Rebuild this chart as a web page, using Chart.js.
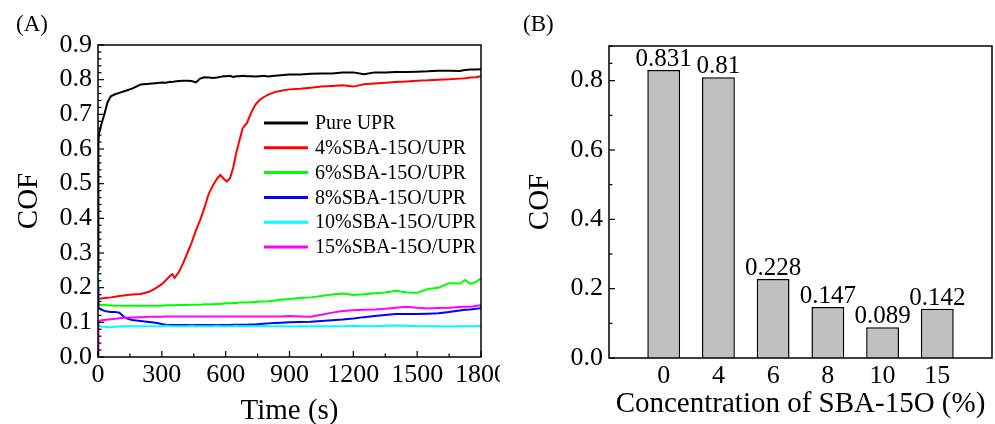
<!DOCTYPE html>
<html><head><meta charset="utf-8">
<script src="https://cdn.jsdelivr.net/npm/chart.js@4.4.1/dist/chart.umd.min.js"></script>
<style>
html,body{margin:0;padding:0;background:#fff;}
#wrap{position:relative;width:995px;height:424px;overflow:hidden;background:#fff;}
#ca{position:absolute;left:0;top:0;}
#cb{position:absolute;left:500px;top:0;}
</style></head><body>
<div id="wrap"><canvas id="ca" width="500" height="424"></canvas><canvas id="cb" width="495" height="424"></canvas></div>
<script>
const FONT = "'Liberation Serif','Times New Roman',serif";

// ---- Panel A data: COF vs time ----
const times = [0,2,5,15,30,45,60,80,100,130,
  160,200,240,270,300,320,340,350,360,380,
  400,420,440,460,480,500,520,540,560,575,
  590,605,620,635,650,665,680,700,720,740,
  760,780,800,830,860,900,950,1000,1050,1100,
  1150,1200,1250,1300,1350,1400,1450,1500,1550,1600,
  1650,1700,1725,1750,1775,1800];
const pureUPR = [0.25,0.62,0.645,0.67,0.70,0.735,0.752,0.758,0.762,0.768,
  0.774,0.786,0.788,0.790,0.792,0.791,0.794,0.793,0.795,0.796,
  0.797,0.797,0.796,0.792,0.803,0.807,0.806,0.805,0.806,0.808,
  0.810,0.810,0.811,0.808,0.810,0.810,0.811,0.810,0.810,0.809,
  0.810,0.811,0.809,0.811,0.813,0.815,0.815,0.817,0.818,0.818,
  0.821,0.821,0.816,0.821,0.821,0.822,0.822,0.823,0.824,0.826,
  0.826,0.825,0.828,0.829,0.829,0.830];
const sba4 = [0.166,0.167,0.168,0.169,0.170,0.171,0.172,0.174,0.176,0.178,
  0.180,0.182,0.188,0.198,0.210,0.222,0.235,0.239,0.228,0.245,
  0.270,0.300,0.330,0.365,0.395,0.430,0.470,0.495,0.515,0.525,
  0.515,0.506,0.515,0.545,0.590,0.625,0.660,0.675,0.705,0.728,
  0.742,0.750,0.757,0.764,0.768,0.772,0.774,0.777,0.780,0.782,
  0.784,0.780,0.787,0.789,0.791,0.793,0.795,0.797,0.798,0.800,
  0.801,0.803,0.804,0.806,0.807,0.810];
const sba6 = [0.228,0.152,0.150,0.150,0.150,0.149,0.149,0.148,0.148,0.148,
  0.148,0.148,0.148,0.148,0.148,0.149,0.149,0.149,0.149,0.150,
  0.150,0.150,0.151,0.151,0.151,0.152,0.152,0.152,0.153,0.153,
  0.154,0.155,0.155,0.156,0.156,0.157,0.157,0.157,0.158,0.159,
  0.160,0.160,0.161,0.163,0.165,0.167,0.170,0.172,0.176,0.180,
  0.183,0.179,0.181,0.184,0.186,0.191,0.186,0.185,0.196,0.200,
  0.213,0.212,0.222,0.211,0.216,0.227];
const sba8 = [0.200,0.145,0.140,0.137,0.133,0.131,0.130,0.130,0.128,0.112,
  0.107,0.104,0.101,0.099,0.095,0.093,0.092,0.092,0.092,0.092,
  0.092,0.092,0.092,0.092,0.092,0.092,0.092,0.092,0.092,0.092,
  0.092,0.092,0.092,0.093,0.093,0.093,0.093,0.093,0.094,0.094,
  0.095,0.096,0.097,0.098,0.099,0.100,0.101,0.102,0.104,0.106,
  0.108,0.111,0.115,0.118,0.121,0.124,0.124,0.124,0.125,0.126,
  0.130,0.134,0.136,0.137,0.139,0.141];
const sba10 = [0.100,0.092,0.090,0.088,0.087,0.086,0.086,0.087,0.088,0.089,
  0.089,0.089,0.089,0.089,0.089,0.090,0.089,0.089,0.089,0.089,
  0.089,0.089,0.090,0.089,0.089,0.089,0.089,0.089,0.090,0.089,
  0.089,0.089,0.089,0.089,0.090,0.089,0.089,0.089,0.089,0.089,
  0.089,0.090,0.089,0.089,0.089,0.088,0.089,0.089,0.089,0.089,
  0.089,0.090,0.089,0.089,0.090,0.091,0.090,0.089,0.089,0.089,
  0.088,0.089,0.089,0.089,0.089,0.090];
const sba15 = [0.000,0.100,0.104,0.106,0.107,0.108,0.109,0.110,0.112,0.113,
  0.114,0.115,0.116,0.116,0.116,0.117,0.117,0.117,0.117,0.117,
  0.117,0.117,0.117,0.117,0.117,0.117,0.117,0.117,0.117,0.117,
  0.117,0.117,0.117,0.117,0.117,0.117,0.117,0.117,0.117,0.117,
  0.117,0.117,0.117,0.117,0.117,0.118,0.117,0.116,0.122,0.128,
  0.133,0.135,0.136,0.137,0.139,0.142,0.145,0.142,0.140,0.141,
  0.142,0.144,0.145,0.145,0.147,0.149];
const seriesLabels = ['Pure UPR','4%SBA-15O/UPR','6%SBA-15O/UPR','8%SBA-15O/UPR','10%SBA-15O/UPR','15%SBA-15O/UPR'];
const seriesValues = [pureUPR, sba4, sba6, sba8, sba10, sba15];
const seriesColors = ['#000000','#ff0000','#00ff00','#0000ff','#00ffff','#ff00ff'];
const yTicksA = [0,0.1,0.2,0.3,0.4,0.5,0.6,0.7,0.8,0.9];
const xTicksA = [0,300,600,900,1200,1500,1800];

// ---- Panel B data: average COF vs concentration ----
const concentrations = ['0','4','6','8','10','15'];
const cofValues = [0.831,0.81,0.228,0.147,0.089,0.142];
const yTicksB = [0,0.2,0.4,0.6,0.8];

function subdivide(major, n, maxV) {
  const out = [];
  for (let i = 0; i < major.length; i++) {
    const a = major[i], b = (i + 1 < major.length) ? major[i+1] : maxV;
    if (b === undefined || b <= a) continue;
    for (let k = 1; k < n; k++) out.push(a + (b - a) * k / n);
  }
  return out;
}

const framePlugin = {
  id: 'frame',
  afterDatasetsDraw(chart, args, o) {
    const {ctx, chartArea: a, scales} = chart;
    ctx.save();
    ctx.strokeStyle = '#000';
    ctx.lineWidth = 1.2;
    const ln = (x1,y1,x2,y2)=>{ctx.beginPath();ctx.moveTo(x1,y1);ctx.lineTo(x2,y2);ctx.stroke();};
    (o.yMajor||[]).forEach(v=>{const p=scales.y.getPixelForValue(v); ln(a.left,p,a.left+6,p);});
    (o.yMinor||[]).forEach(v=>{const p=scales.y.getPixelForValue(v); ln(a.left,p,a.left+3.5,p);});
    (o.xMajor||[]).forEach(v=>{const p=scales.x.getPixelForValue(v); ln(p,a.bottom,p,a.bottom-6);});
    (o.xMinor||[]).forEach(v=>{const p=scales.x.getPixelForValue(v); ln(p,a.bottom,p,a.bottom-3.5);});
    ctx.lineWidth = 1.5;
    ctx.strokeRect(a.left, a.top, a.right - a.left, a.bottom - a.top);
    ctx.fillStyle = '#000';
    (o.texts||[]).forEach(t=>{
      ctx.font = t.size + 'px ' + FONT;
      ctx.textAlign = t.align || 'left';
      ctx.textBaseline = 'middle';
      ctx.fillText(t.text, t.x, t.y);
    });
    if (o.legend) {
      const L = o.legend;
      ctx.font = L.size + 'px ' + FONT;
      ctx.textAlign = 'left';
      ctx.textBaseline = 'middle';
      chart.data.datasets.forEach((ds, i) => {
        const y = a.top + L.top + i * L.gap;
        const x = a.left + L.left;
        ctx.strokeStyle = ds.borderColor;
        ctx.lineWidth = 3;
        ln(x, y, x + L.len, y);
        ctx.fillStyle = '#000';
        ctx.fillText(ds.label, x + L.len + 7, y + 1);
      });
    }
    if (o.barLabels) {
      ctx.font = o.barLabels.size + 'px ' + FONT;
      ctx.textAlign = 'center';
      ctx.textBaseline = 'alphabetic';
      ctx.fillStyle = '#000';
      const meta = chart.getDatasetMeta(0);
      chart.data.datasets[0].data.forEach((v, i) => {
        if (v === null) return;
        const el = meta.data[i];
        ctx.fillText(String(v), el.x, el.y - 4);
      });
    }
    ctx.restore();
  }
};

// ---- Chart A ----
new Chart(document.getElementById('ca'), {
  type: 'line',
  data: {
    datasets: seriesLabels.map((lab, i) => ({
      label: lab,
      data: times.map((t, k) => ({x: t, y: seriesValues[i][k]})),
      borderColor: seriesColors[i],
      backgroundColor: seriesColors[i],
      borderWidth: 2,
      pointRadius: 0,
      tension: 0,
      fill: false,
      order: 6 - i
    }))
  },
  options: {
    responsive: false,
    animation: false,
    layout: {padding: {left: 0, right: 19, top: 45, bottom: 0}},
    plugins: {
      legend: {display: false},
      tooltip: {enabled: false},
      frame: {
        yMajor: yTicksA, yMinor: subdivide(yTicksA, 5),
        xMajor: xTicksA, xMinor: subdivide(xTicksA, 2),
        texts: [{text: '(A)', x: 16, y: 25, size: 23}],
        legend: {left: 166, top: 78, gap: 24.8, len: 44, size: 20}
      }
    },
    scales: {
      x: {
        type: 'linear', min: 0, max: 1800,
        afterBuildTicks: s => { s.ticks = xTicksA.map(v => ({value: v})); },
        ticks: {font: {family: FONT, size: 26}, color: '#000', padding: 3, maxRotation: 0, autoSkip: false, callback: v => String(v)},
        grid: {display: false, drawTicks: false, tickLength: 0}, border: {display: false},
        title: {display: true, text: 'Time (s)', color: '#000', font: {family: FONT, size: 29, lineHeight: 1}, padding: {top: 0, bottom: -2}},
        afterFit: s => { s.height = 67; s.paddingLeft = 0; s.paddingRight = 0; }
      },
      y: {
        type: 'linear', min: 0, max: 0.9,
        afterBuildTicks: s => { s.ticks = yTicksA.map(v => ({value: v})); },
        ticks: {font: {family: FONT, size: 26}, color: '#000', padding: 6, callback: v => Number(v).toFixed(1)},
        grid: {display: false, drawTicks: false, tickLength: 0}, border: {display: false},
        title: {display: true, text: 'COF', color: '#000', font: {family: FONT, size: 29, lineHeight: 1}, padding: {top: 15, bottom: 0}},
        afterFit: s => { s.width = 98; s.paddingTop = 0; s.paddingBottom = 0; }
      }
    }
  },
  plugins: [framePlugin]
});

// ---- Chart B ----
new Chart(document.getElementById('cb'), {
  type: 'bar',
  data: {
    labels: [''].concat(concentrations, ['']),
    datasets: [{
      label: 'COF',
      data: [null].concat(cofValues, [null]),
      backgroundColor: '#c0c0c0',
      borderColor: '#000000',
      borderWidth: 1.5,
      barPercentage: 0.6,
      categoryPercentage: 1.0
    }]
  },
  options: {
    responsive: false,
    animation: false,
    layout: {padding: {left: 0, right: 3, top: 46, bottom: 0}},
    plugins: {
      legend: {display: false},
      tooltip: {enabled: false},
      frame: {
        yMajor: yTicksB, yMinor: subdivide(yTicksB, 2, 0.9).concat([0.9]),
        texts: [{text: '(B)', x: 23, y: 25, size: 23}],
        barLabels: {size: 25}
      }
    },
    scales: {
      x: {
        type: 'category', offset: false,
        ticks: {font: {family: FONT, size: 26}, color: '#000', padding: 3, maxRotation: 0, autoSkip: false},
        grid: {display: false, drawTicks: false, tickLength: 0}, border: {display: false},
        title: {display: true, text: 'Concentration of SBA-15O (%)', color: '#000', font: {family: FONT, size: 29, lineHeight: 1}, padding: {top: 0, bottom: 5}},
        afterFit: s => { s.height = 66; s.paddingLeft = 0; s.paddingRight = 0; }
      },
      y: {
        type: 'linear', min: 0, max: 0.9,
        afterBuildTicks: s => { s.ticks = yTicksB.map(v => ({value: v})); },
        ticks: {font: {family: FONT, size: 26}, color: '#000', padding: 6, callback: v => Number(v).toFixed(1)},
        grid: {display: false, drawTicks: false, tickLength: 0}, border: {display: false},
        title: {display: true, text: 'COF', color: '#000', font: {family: FONT, size: 29, lineHeight: 1}, padding: {top: 26, bottom: 0}},
        afterFit: s => { s.width = 109; s.paddingTop = 0; s.paddingBottom = 0; }
      }
    }
  },
  plugins: [framePlugin]
});
</script>
</body></html>
